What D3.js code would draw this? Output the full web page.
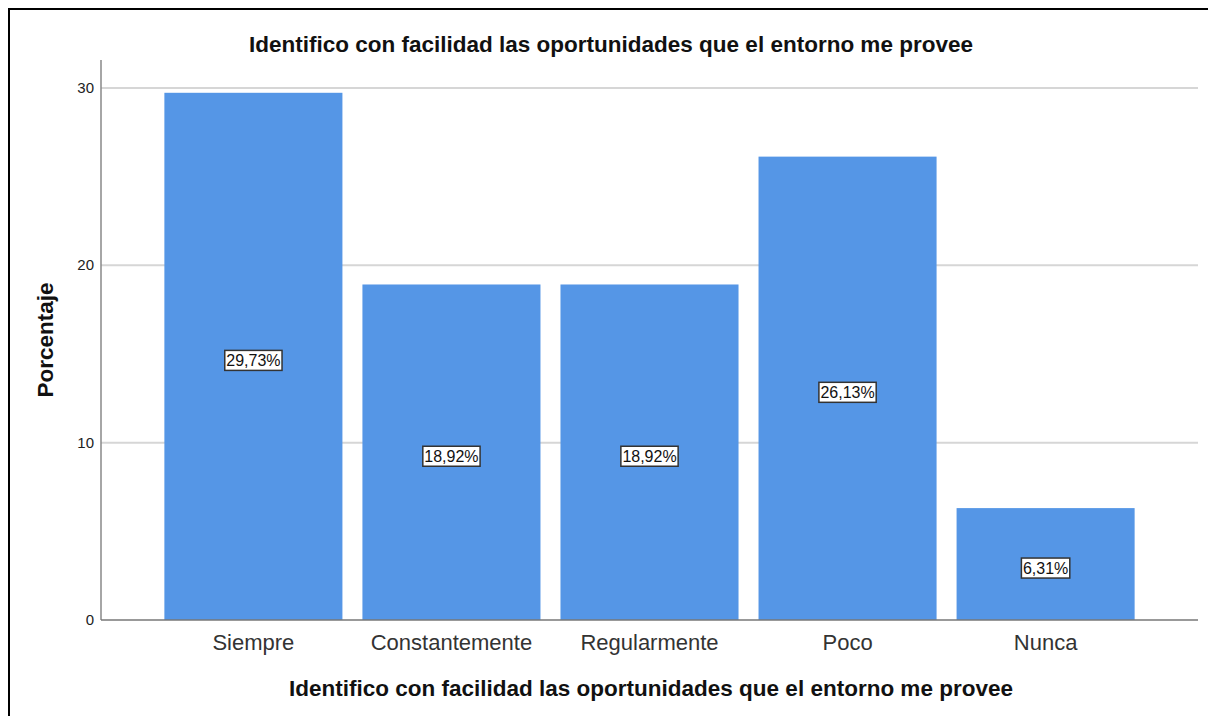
<!DOCTYPE html>
<html><head><meta charset="utf-8">
<script src="https://cdn.jsdelivr.net/npm/d3@7"></script>
<style>body{margin:0;background:#fff}svg{display:block}</style>
</head><body>
<svg id="c" width="1208" height="716"></svg>
<script>
const categories = ["Siempre","Constantemente","Regularmente","Poco","Nunca"];
const values = [29.73, 18.92, 18.92, 26.13, 6.31];
const labels = ["29,73%","18,92%","18,92%","26,13%","6,31%"];
const yTicks = [0,10,20,30];
const title = "Identifico con facilidad las oportunidades que el entorno me provee";
const yTitle = "Porcentaje";

const svg = d3.select("#c");
const font = "Arial, 'Liberation Sans', sans-serif";
// frame
svg.append("path").attr("d","M9,716 V9 H1208").attr("fill","none").attr("stroke","#000").attr("stroke-width",2);

const x = d3.scaleBand().domain(categories).range([101,1198]).paddingInner(0.101).paddingOuter(0.32);
const y = d3.scaleLinear().domain([0,30]).range([620,88]);

// gridlines
svg.append("g").selectAll("line").data(yTicks.filter(d=>d>0)).join("line")
  .attr("x1",101).attr("x2",1198).attr("y1",d=>y(d)).attr("y2",d=>y(d))
  .attr("stroke","#d6d6d6").attr("stroke-width",2);

// bars
svg.append("g").selectAll("rect").data(values).join("rect")
  .attr("x",(d,i)=>x(categories[i])).attr("width",x.bandwidth())
  .attr("y",d=>y(d)).attr("height",d=>y(0)-y(d)).attr("fill","#5596e6");

// axes lines
svg.append("line").attr("x1",101).attr("x2",101).attr("y1",60).attr("y2",620).attr("stroke","#888").attr("stroke-width",1.5);
svg.append("line").attr("x1",101).attr("x2",1198).attr("y1",620).attr("y2",620).attr("stroke","#777").attr("stroke-width",1.5);

// y tick labels
svg.append("g").selectAll("text").data(yTicks).join("text")
  .attr("x",94).attr("y",d=>y(d)+5).attr("text-anchor","end")
  .attr("font-family",font).attr("font-size",15).attr("fill","#222").text(d=>d);

// category labels
svg.append("g").selectAll("text").data(categories).join("text")
  .attr("x",d=>x(d)+x.bandwidth()/2).attr("y",650).attr("text-anchor","middle")
  .attr("font-family",font).attr("font-size",22).attr("fill","#333").text(d=>d);

// value labels
const lg = svg.append("g").selectAll("g").data(values).join("g")
  .attr("transform",(d,i)=>`translate(${x(categories[i])+x.bandwidth()/2},${y(d/2)+4})`);
lg.append("text").attr("text-anchor","middle").attr("y",6)
  .attr("font-family",font).attr("font-size",16).attr("fill","#111").text((d,i)=>labels[i]);
lg.each(function(){
  const g=d3.select(this); const b=g.select("text").node().getBBox();
  g.insert("rect","text").attr("x",b.x-1.5).attr("y",-10).attr("width",b.width+3).attr("height",20)
   .attr("fill","#fff").attr("stroke","#333").attr("stroke-width",1.5);
});

// titles
svg.append("text").attr("x",611).attr("y",52).attr("text-anchor","middle")
  .attr("font-family",font).attr("font-size",22.5).attr("font-weight","bold").attr("fill","#111").text(title);
svg.append("text").attr("x",651).attr("y",696).attr("text-anchor","middle")
  .attr("font-family",font).attr("font-size",22.5).attr("font-weight","bold").attr("fill","#111").text(title);
svg.append("text").attr("transform","translate(53,340) rotate(-90)").attr("text-anchor","middle")
  .attr("font-family",font).attr("font-size",22.5).attr("font-weight","bold").attr("fill","#111").text(yTitle);
</script>
</body></html>
